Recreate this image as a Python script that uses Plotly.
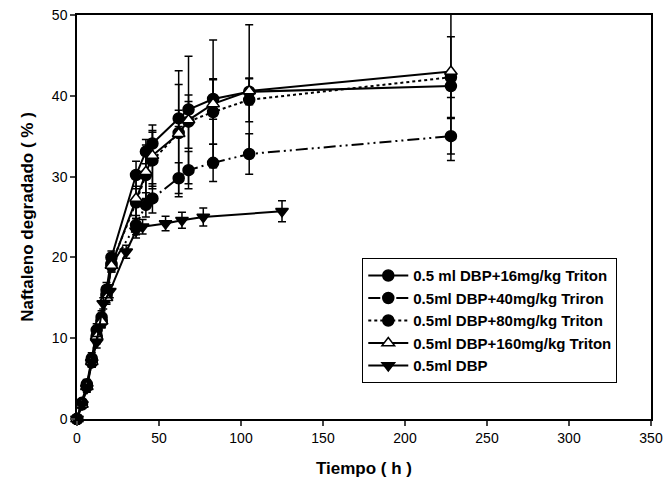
import plotly.graph_objects as go

# Time points (h) for Triton series
t_triton = [0, 3, 6, 9, 12, 15, 18, 21, 36, 42, 46, 62, 68, 83, 105, 228]
s16 = [0, 2.0, 4.3, 7.5, 11.0, 12.6, 16.0, 20.0, 30.2, 33.1, 34.1, 37.2, 38.3, 39.6, 40.5, 41.2]
e16 = [0.3, 0.4, 0.6, 0.7, 0.8, 0.8, 0.9, 0.8, 1.7, 1.5, 1.6, 1.0, 1.0, 2.5, 1.6, 1.4]
s40 = [0, 1.9, 4.1, 7.2, 10.3, 12.0, 15.5, 19.0, 24.0, 26.5, 27.3, 29.8, 30.8, 31.7, 32.8, 35.0]
e40 = [0.3, 0.4, 0.5, 0.6, 0.7, 0.7, 0.8, 0.8, 1.2, 1.5, 1.8, 1.9, 2.3, 2.3, 2.5, 2.2]
s80 = [0, 1.8, 4.0, 7.0, 10.0, 12.2, 15.2, 19.2, 26.8, 30.2, 32.0, 35.4, 36.8, 38.0, 39.5, 42.3]
e80 = [0.3, 0.4, 0.5, 0.6, 0.7, 0.8, 0.8, 0.8, 2.0, 3.0, 3.5, 6.0, 3.3, 4.0, 2.7, 5.0]
s160 = [0, 1.8, 4.0, 7.1, 10.2, 12.1, 15.0, 19.0, 27.3, 30.6, 32.6, 35.3, 37.0, 39.0, 40.6, 43.0]
e160 = [0.3, 0.4, 0.5, 0.6, 0.7, 0.8, 0.8, 0.8, 2.5, 3.3, 3.8, 7.8, 7.9, 7.9, 8.2, 11.0]

t_dbp = [0, 3, 6, 9, 12, 16, 20, 30, 36, 40, 54, 64, 77, 125]
dbp = [0, 1.8, 3.8, 7.0, 9.5, 14.3, 15.8, 20.7, 23.3, 23.8, 24.2, 24.6, 25.0, 25.7]
edbp = [0.3, 0.4, 0.5, 0.6, 0.7, 0.7, 0.8, 0.8, 0.9, 0.9, 0.9, 1.0, 1.1, 1.3]

names = ["0.5 ml DBP+16mg/kg Triton", "0.5ml DBP+40mg/kg Triron",
         "0.5ml DBP+80mg/kg Triton", "0.5ml DBP+160mg/kg Triton", "0.5ml DBP"]

x_ticks = [0, 50, 100, 150, 200, 250, 300, 350]
y_ticks = [0, 10, 20, 30, 40, 50]

fig = go.Figure()

def add(x, y, e, name, symbol, dash, fill="black"):
    fig.add_trace(go.Scatter(
        x=x, y=y, name=name, mode="lines+markers",
        line=dict(color="black", width=2, dash=dash),
        marker=dict(symbol=symbol, size=11, color=fill,
                    line=dict(color="black", width=1.5)),
        error_y=dict(type="data", array=e, visible=True, color="black",
                     thickness=1.5, width=4),
        cliponaxis=False,
    ))

add(t_triton, s16, e16, names[0], "circle", "solid")
add(t_triton, s40, e40, names[1], "circle", "12px,4px,2px,4px,2px,4px")
add(t_triton, s80, e80, names[2], "circle", "dot")
add(t_triton, s160, e160, names[3], "triangle-up", "solid", fill="white")
add(t_dbp, dbp, edbp, names[4], "triangle-down", "solid")

fig.update_layout(
    width=669, height=494,
    margin=dict(l=77, r=18, t=15, b=75),
    paper_bgcolor="white", plot_bgcolor="white",
    font=dict(family="Liberation Sans, Arial", color="black", size=14),
    legend=dict(x=0.497, y=0.398, xanchor="left", yanchor="top",
                bordercolor="black", borderwidth=1, bgcolor="white",
                font=dict(size=15, family="Liberation Sans, Arial", weight="bold"),
                tracegroupgap=0, itemwidth=40),
    showlegend=True,
)
fig.update_xaxes(
    range=[0, 350], tickvals=x_ticks, ticks="outside", ticklen=5,
    tickwidth=1.5, showline=True, linewidth=1.5, linecolor="black",
    mirror=True, showgrid=False, zeroline=False, automargin=False,
    title=dict(text="<b>Tiempo ( h )</b>", font=dict(size=17), standoff=18),
)
fig.update_yaxes(
    range=[0, 50], tickvals=y_ticks, ticks="outside", ticklen=5,
    tickwidth=1.5, showline=True, linewidth=1.5, linecolor="black",
    mirror=True, showgrid=False, zeroline=False, automargin=False,
    title=dict(text="<b>Naftaleno degradado ( % )</b>", font=dict(size=17), standoff=14),
)

fig.write_html("out.html", config={"displayModeBar": False},
               post_script="document.body.style.margin='0';")
